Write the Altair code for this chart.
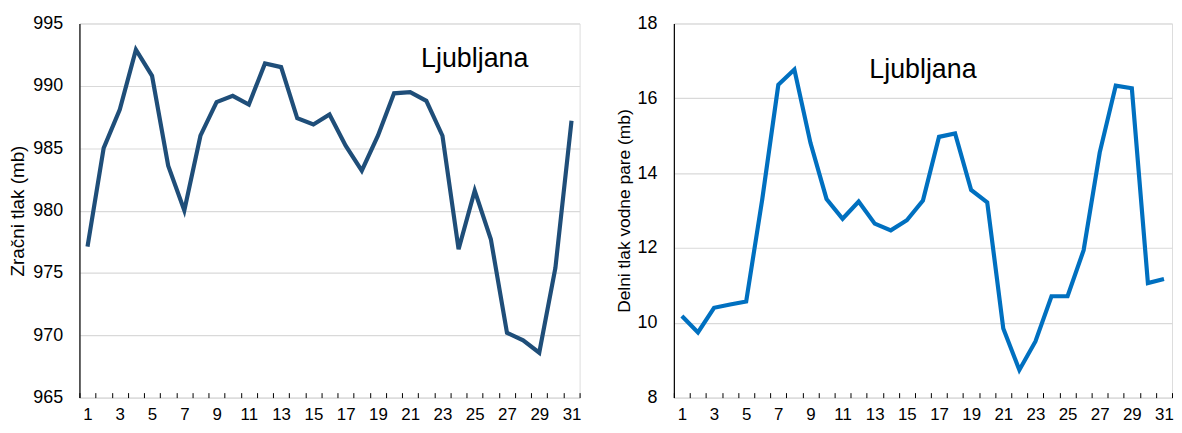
import altair as alt
import pandas as pd

days = list(range(1, 32))
pressure = [977.1, 985.0, 988.1, 992.9, 990.8, 983.6, 980.0, 986.0, 988.7, 989.2,
            988.5, 991.8, 991.5, 987.4, 986.9, 987.7, 985.2, 983.2, 986.0, 989.4,
            989.5, 988.8, 986.0, 976.9, 981.6, 977.7, 970.2, 969.6, 968.6, 975.4,
            987.2]
vapour = [10.18, 9.74, 10.40, 10.49, 10.57, 13.30, 16.36, 16.77, 14.81, 13.31,
          12.78, 13.24, 12.65, 12.47, 12.74, 13.27, 14.97, 15.06, 13.55, 13.22,
          9.85, 8.74, 9.50, 10.71, 10.71, 11.94, 14.55, 16.34, 16.27, 11.06,
          11.17]

station = "Ljubljana"
left_title = "Zračni tlak (mb)"
right_title = "Delni tlak vodne pare (mb)"
left_ticks = [965, 970, 975, 980, 985, 990, 995]
right_ticks = [8, 10, 12, 14, 16, 18]

# annotation anchor positions in data units
left_note = {"day": 25, "value": 991.5, "label": station}
right_note = {"day": 16, "value": 16.55, "label": station}

df = pd.DataFrame({"day": days, "pressure": pressure, "vapour": vapour})

FONT = "Liberation Sans"
H = 377

x_axis = alt.Axis(
    title=None,
    labelExpr="datum.value % 2 == 1 ? datum.label : ''",
    labelAngle=0,
    labelFontSize=17,
    labelColor="black",
    labelFont=FONT,
    tickBand="extent",
    tickSize=5,
    tickColor="black",
    tickWidth=1,
    domain=False,
    offset=-5,
    labelPadding=9,
    grid=False,
)

x_enc = alt.X("day:O", axis=x_axis,
              scale=alt.Scale(paddingInner=0, paddingOuter=0))


def panel(field, color, ticks, title, note, title_pad, title_size, width):
    y_axis = alt.Axis(
        title=title,
        values=ticks,
        titleFont=FONT,
        titleFontSize=title_size,
        titleFontWeight="normal",
        titleColor="black",
        titlePadding=title_pad,
        labelFont=FONT,
        labelFontSize=18,
        labelColor="black",
        labelPadding=17,
        ticks=False,
        domainColor="black",
        domainWidth=1.2,
        gridColor="#d9d9d9",
        gridWidth=1.2,
    )
    line = alt.Chart(df).mark_line(color=color, strokeWidth=4.2).encode(
        x=x_enc,
        y=alt.Y(f"{field}:Q", axis=y_axis,
                scale=alt.Scale(domain=[ticks[0], ticks[-1]], nice=False, zero=False)),
    )
    txt = alt.Chart(pd.DataFrame([note])).mark_text(
        font=FONT, fontSize=27, color="black", align="center", baseline="alphabetic"
    ).encode(
        x=alt.X("day:O"),
        y=alt.Y("value:Q"),
        text="label:N",
    )
    return alt.layer(line, txt).properties(width=width, height=H)


left = panel("pressure", "#1f4e79", left_ticks, left_title, left_note, 5, 19, 504)
right = panel("vapour", "#0070c0", right_ticks, right_title, right_note, 4, 17.5, 502)

chart = alt.hconcat(left, right, spacing=33).properties(
    padding={"left": 0, "top": 4, "right": 0, "bottom": 0}
).configure_view(
    stroke="#404040", strokeWidth=1
).configure(background="white")

chart.save("out.html", embed_options={"renderer": "svg", "actions": False})
